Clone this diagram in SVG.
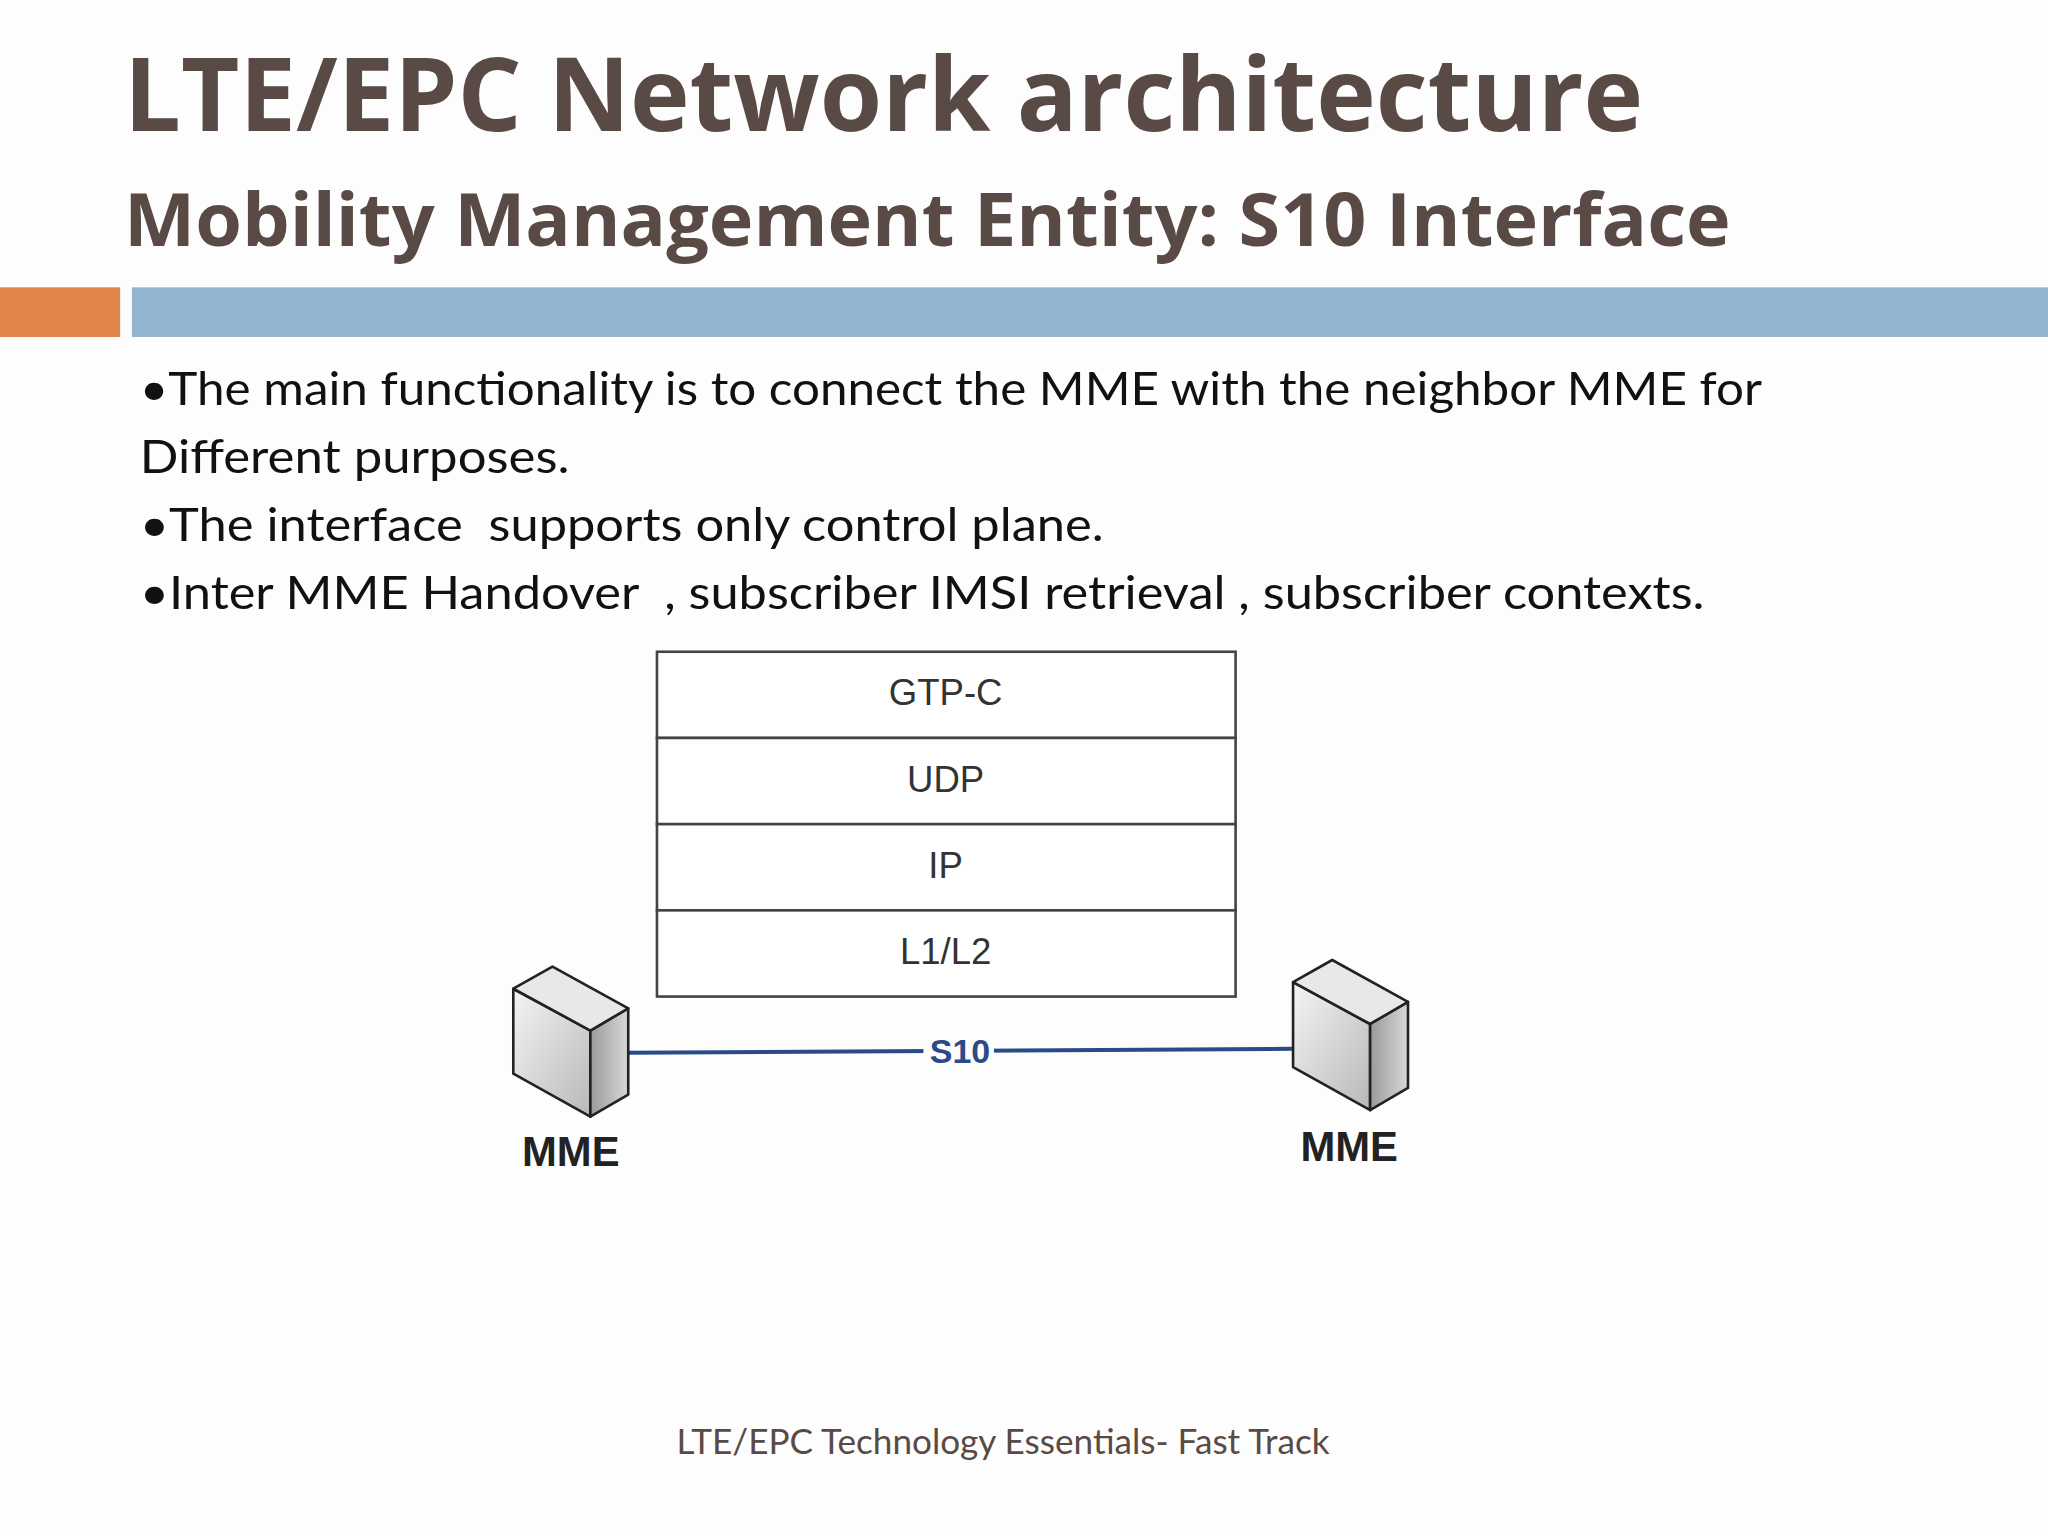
<svg xmlns="http://www.w3.org/2000/svg" width="2048" height="1536" viewBox="0 0 2048 1536">
<defs>
<linearGradient id="front" x1="0" y1="0" x2="1" y2="1"><stop offset="0" stop-color="#f4f4f4"/><stop offset="1" stop-color="#b8b8b8"/></linearGradient>
<linearGradient id="side" x1="0" y1="0" x2="1" y2="0"><stop offset="0" stop-color="#9a9a9a"/><stop offset="1" stop-color="#d8d8d8"/></linearGradient>
<style>
.t{font-family:"Open Sans","Noto Sans",sans-serif;fill:#5a4a45;font-weight:bold}
.b{font-family:"Lato","Open Sans",sans-serif;fill:#111;font-size:36px}
.c{font-family:"Liberation Sans",Arial,sans-serif;fill:#333;font-size:28px;text-anchor:middle}
.row{fill:#fff;stroke:#444;stroke-width:2}
.cube polygon{stroke:#222;stroke-width:2;stroke-linejoin:round}
.lbl{font-family:"Liberation Sans",Arial,sans-serif;font-weight:bold;font-size:32px;fill:#222;text-anchor:middle}
</style>
</defs>
<rect width="2048" height="1536" fill="#fdfdfd"/>
<g transform="scale(1.30612)">
<text class="t" x="95" y="100" font-size="78" textLength="1163" lengthAdjust="spacingAndGlyphs">LTE/EPC Network architecture</text>
<text class="t" x="95" y="188" font-size="56" textLength="1230" lengthAdjust="spacingAndGlyphs">Mobility Management Entity: S10 Interface</text>
<rect x="0" y="220" width="92" height="38" fill="#e0844a"/>
<rect x="101" y="220" width="1467" height="38" fill="#93b5cf"/>
<text class="b" x="107" y="310" textLength="1242" lengthAdjust="spacingAndGlyphs">•The main functionality is to connect the MME with the neighbor MME for</text>
<text class="b" x="107" y="362" textLength="329" lengthAdjust="spacingAndGlyphs">Different purposes.</text>
<text class="b" x="107" y="414" xml:space="preserve" textLength="738" lengthAdjust="spacingAndGlyphs">•The interface  supports only control plane.</text>
<text class="b" x="107" y="466" textLength="1198" lengthAdjust="spacingAndGlyphs" xml:space="preserve">•Inter MME Handover  , subscriber IMSI retrieval , subscriber contexts.</text>
<g id="stack">
<rect class="row" x="503" y="499" width="443" height="66"/>
<rect class="row" x="503" y="565" width="443" height="66"/>
<rect class="row" x="503" y="631" width="443" height="66"/>
<rect class="row" x="503" y="697" width="443" height="66"/>
<text class="c" x="724" y="540">GTP-C</text>
<text class="c" x="724" y="606">UDP</text>
<text class="c" x="724" y="672">IP</text>
<text class="c" x="724" y="738">L1/L2</text>
</g>
<g id="connectors">
<line x1="481" y1="806" x2="990" y2="803" stroke="#2a4a8a" stroke-width="3"/>
<rect x="707" y="790" width="54" height="28" fill="#fdfdfd"/>
<text x="735" y="814" font-family="Liberation Sans,Arial,sans-serif" font-weight="bold" font-size="26" fill="#2a4a8a" text-anchor="middle">S10</text>
</g>
<g id="mme1" class="cube">
<polygon points="393,757 452,789 452,855 393,822" fill="url(#front)"/>
<polygon points="452,789 481,772 481,838 452,855" fill="url(#side)"/>
<polygon points="393,757 423,740 481,772 452,789" fill="#e8e8e8"/>
<text class="lbl" x="437" y="893">MME</text>
</g>
<g id="mme2" class="cube">
<polygon points="990,752 1049,784 1049,850 990,817" fill="url(#front)"/>
<polygon points="1049,784 1078,767 1078,833 1049,850" fill="url(#side)"/>
<polygon points="990,752 1020,735 1078,767 1049,784" fill="#e8e8e8"/>
<text class="lbl" x="1033" y="889">MME</text>
</g>
<text x="518" y="1113" font-family="Lato,'Open Sans',sans-serif" font-size="26" fill="#5a4a45" textLength="500" lengthAdjust="spacingAndGlyphs">LTE/EPC Technology Essentials- Fast Track</text>
</g>
</svg>
